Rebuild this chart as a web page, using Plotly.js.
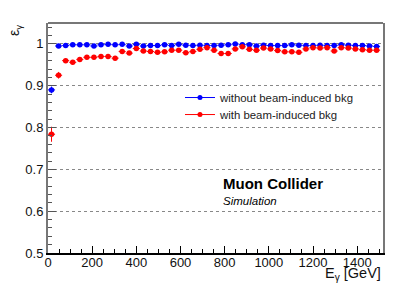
<!DOCTYPE html>
<html><head><meta charset="utf-8">
<script src="https://cdn.plot.ly/plotly-3.0.1.min.js"></script>
<style>html,body{margin:0;padding:0;background:#fff}#chart{width:399px;height:288px}</style>
</head><body><div id="chart"></div>
<script>
// Photon energy bin centres (GeV)
const energy = [16,48,80,112,144,176,208,240,272,304,336,368,400,432,464,496,528,560,592,624,656,688,720,752,784,816,848,880,912,944,976,1008,1040,1072,1104,1136,1168,1200,1232,1264,1296,1328,1360,1392,1424,1456,1488];
const binHalfWidth = [16,16,16,16,16,16,16,16,16,16,16,16,16,16,16,16,16,16,16,16,16,16,16,16,16,16,16,16,16,16,16,16,16,16,16,16,16,16,16,16,16,16,16,16,16,16,16];
// Efficiency without beam-induced background
const effNoBIB = [0.890,0.995,0.996,0.998,0.998,0.998,0.995,0.998,0.999,0.998,0.999,0.995,0.999,0.995,0.996,0.996,0.998,0.996,0.999,0.997,0.996,0.997,0.996,0.996,0.997,0.998,1.000,0.998,0.998,0.995,0.997,0.996,0.996,0.996,0.998,0.997,0.996,0.996,0.997,0.996,0.996,0.998,0.997,0.996,0.996,0.995,0.994];
const errNoBIB = [0.008,0.002,0.002,0.002,0.002,0.002,0.002,0.002,0.002,0.002,0.002,0.002,0.002,0.002,0.002,0.002,0.002,0.002,0.002,0.002,0.002,0.002,0.002,0.002,0.002,0.002,0.002,0.002,0.002,0.002,0.002,0.002,0.002,0.002,0.002,0.002,0.002,0.002,0.002,0.002,0.002,0.002,0.002,0.002,0.002,0.002,0.002];
// Efficiency with beam-induced background
const effBIB = [0.784,0.925,0.960,0.956,0.963,0.968,0.968,0.970,0.970,0.966,0.982,0.978,0.989,0.983,0.982,0.980,0.981,0.985,0.985,0.979,0.982,0.987,0.991,0.985,0.977,0.977,0.988,0.993,0.987,0.985,0.990,0.988,0.984,0.981,0.981,0.980,0.988,0.991,0.990,0.991,0.983,0.991,0.990,0.988,0.986,0.985,0.985];
const errBIB = [0.018,0.008,0.005,0.005,0.004,0.004,0.004,0.004,0.004,0.004,0.003,0.003,0.003,0.003,0.003,0.003,0.003,0.003,0.003,0.003,0.003,0.003,0.003,0.003,0.003,0.003,0.003,0.003,0.003,0.003,0.003,0.003,0.003,0.003,0.003,0.003,0.003,0.003,0.003,0.003,0.003,0.003,0.003,0.003,0.003,0.003,0.003];
const seriesNames = ['without beam-induced bkg','with beam-induced bkg'];
const xTicks = [0,200,400,600,800,1000,1200,1400];
const yTicks = [0.5,0.6,0.7,0.8,0.9,1];
const yTickText = ['0.5','0.6','0.7','0.8','0.9','1'];

const BLUE = '#0000ff', RED = '#ff0000';
function dataTrace(y, err, color) {
  return {
    x: energy, y: y, type: 'scatter', mode: 'markers', showlegend: false,
    marker: {color: color, size: 5.5},
    error_x: {type: 'data', array: binHalfWidth, color: color, thickness: 1, width: 0},
    error_y: {type: 'data', array: err, color: color, thickness: 1, width: 0}
  };
}
function legendTrace(name, color, legendId) {
  return {x: [null], y: [null], type: 'scatter', mode: 'lines+markers', name: name, legend: legendId,
    line: {color: color, width: 1}, marker: {color: color, size: 5}};
}
const traces = [
  dataTrace(effNoBIB, errNoBIB, BLUE),
  dataTrace(effBIB, errBIB, RED),
  legendTrace(seriesNames[0], BLUE, 'legend'),
  legendTrace(seriesNames[1], RED, 'legend2')
];
const font = 'Liberation Sans, Arial, sans-serif';
const legFont = {family: font, size: 11.4, color: '#222'};
const layout = {
  width: 399, height: 288,
  margin: {l: 48, r: 16, t: 23, b: 35},
  paper_bgcolor: '#fff', plot_bgcolor: '#fff',
  font: {family: font, color: '#000', size: 13},
  showlegend: true,
  legend: {x: 0.394, y: 0.676, xanchor: 'left', yanchor: 'middle', bgcolor: 'rgba(0,0,0,0)', font: legFont},
  legend2: {x: 0.394, y: 0.602, xanchor: 'left', yanchor: 'middle', bgcolor: 'rgba(0,0,0,0)', font: legFont},
  xaxis: {range: [0, 1517], tickvals: xTicks, ticktext: xTicks.map(String),
    ticks: 'inside', ticklen: 7, tickcolor: '#000', tickwidth: 1, ticklabelstandoff: -4,
    minor: {dtick: 50, tick0: 0, ticks: 'inside', ticklen: 4, tickcolor: '#000', showgrid: false},
    showline: true, linecolor: '#000', linewidth: 2, mirror: false,
    showgrid: false, zeroline: false, tickfont: {size: 13, color: '#111'}},
  yaxis: {range: [0.5, 1.05], tickvals: yTicks, ticktext: yTickText,
    ticks: 'inside', ticklen: 8, tickcolor: '#555', tickwidth: 1,
    minor: {dtick: 0.02, tick0: 0.5, ticks: 'inside', ticklen: 4, tickcolor: '#555', showgrid: false},
    showline: true, linecolor: '#777', linewidth: 2, mirror: true,
    showgrid: true, gridcolor: '#888', griddash: 'dot', gridwidth: 1,
    zeroline: false, tickfont: {size: 13, color: '#111'}},
  shapes: [{type: 'line', xref: 'paper', yref: 'paper', x0: 0, x1: 1, y0: 1, y1: 1,
    line: {color: '#777', width: 2}}],
  annotations: [
    {text: 'ε<sub>γ</sub>', xref: 'paper', yref: 'paper', x: -0.1, y: 1.0, xanchor: 'center', yanchor: 'top',
      textangle: -90, showarrow: false, font: {size: 14, color: '#111'}},
    {text: 'E<sub>γ</sub> [GeV]', xref: 'paper', yref: 'paper', x: 1.0, y: -0.093, xanchor: 'right', yanchor: 'middle',
      showarrow: false, font: {size: 14.5, color: '#111'}},
    {text: '<b>Muon Collider</b>', xref: 'paper', yref: 'paper', x: 0.515, y: 0.304, xanchor: 'left', yanchor: 'middle',
      showarrow: false, font: {size: 15, color: '#000'}},
    {text: '<i>Simulation</i>', xref: 'paper', yref: 'paper', x: 0.515, y: 0.226, xanchor: 'left', yanchor: 'middle',
      showarrow: false, font: {size: 11.5, color: '#000'}}
  ]
};
Plotly.newPlot('chart', traces, layout, {staticPlot: true, displayModeBar: false});
</script></body></html>
